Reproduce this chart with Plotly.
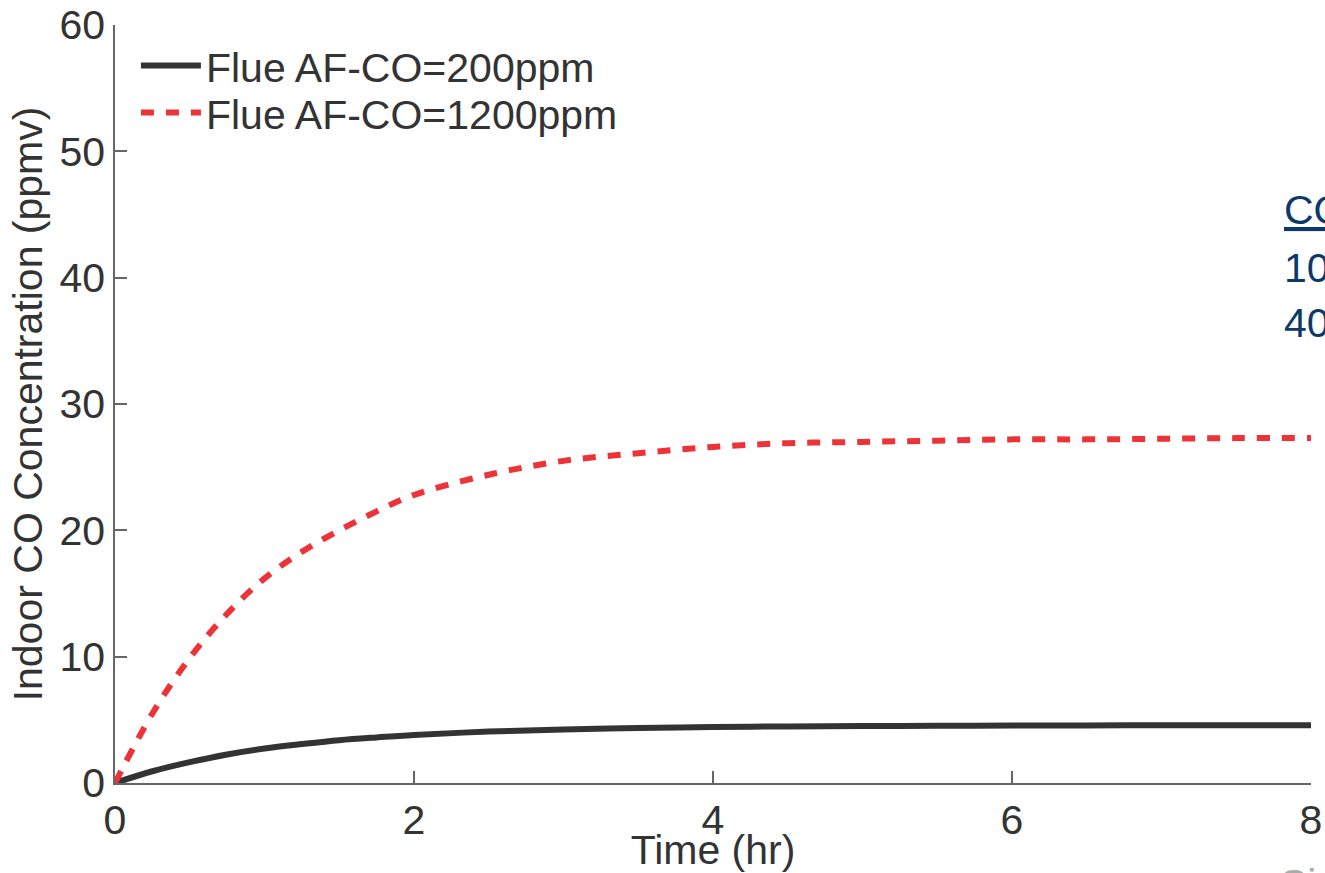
import plotly.graph_objects as go

time_hr = [0, 0.25, 0.5, 0.75, 1, 1.25, 1.5, 1.75, 2, 2.5, 3, 3.5, 4, 4.5, 5, 5.5, 6, 6.5, 7, 7.5, 8]
co_200 = [0, 0.93, 1.65, 2.26, 2.73, 3.08, 3.39, 3.61, 3.80, 4.07, 4.24, 4.36, 4.43, 4.48, 4.51, 4.53, 4.55, 4.56, 4.57, 4.57, 4.58]
co_1200 = [0, 5.5, 9.9, 13.4, 16.2, 18.3, 20.0, 21.5, 22.8, 24.4, 25.5, 26.1, 26.6, 26.9, 27.0, 27.1, 27.2, 27.2, 27.25, 27.3, 27.3]
x_ticks = [0, 2, 4, 6, 8]
y_ticks = [0, 10, 20, 30, 40, 50, 60]

FONT = "Liberation Sans, Arial, Helvetica, sans-serif"
TXT = "#333333"
BLUE = "#0B3A6A"
FS = 41

fig = go.Figure()
fig.add_trace(go.Scatter(x=time_hr, y=co_200, mode="lines", name="Flue AF-CO=200ppm",
                         line=dict(color="#333333", width=6, shape="spline"), legend="legend"))
fig.add_trace(go.Scatter(x=time_hr, y=co_1200, mode="lines", name="Flue AF-CO=1200ppm",
                         line=dict(color="#EE3338", width=6, dash="13px,12px", shape="spline"),
                         legend="legend2"))

leg_common = dict(xanchor="left", yanchor="middle", bgcolor="rgba(0,0,0,0)",
                  font=dict(size=FS, color=TXT, family=FONT), itemwidth=60,
                  borderwidth=0)
fig.update_layout(
    width=1325, height=873,
    margin=dict(l=115, r=14, t=25, b=90, autoexpand=False),
    paper_bgcolor="white", plot_bgcolor="white",
    font=dict(family=FONT, size=FS, color=TXT),
    showlegend=True,
    legend=dict(x=0.0175, y=0.946, **leg_common),
    legend2=dict(x=0.0175, y=0.884, **leg_common),
)
axis_common = dict(showline=True, linecolor="#666666", linewidth=1.5, ticks="inside",
                   ticklen=12, tickwidth=1.5, tickcolor="#666666", showgrid=False,
                   zeroline=False, tickfont=dict(size=FS, color=TXT))
fig.update_xaxes(range=[0, 8], tickvals=x_ticks, ticktext=[str(v) for v in x_ticks],
                 title=dict(text="Time (hr)", font=dict(size=FS, color=TXT), standoff=3),
                 **axis_common)
fig.update_yaxes(range=[0, 60], tickvals=y_ticks, ticktext=[str(v) for v in y_ticks],
                 title=dict(text="Indoor CO Concentration (ppmv)", font=dict(size=FS, color=TXT), standoff=4),
                 **axis_common)

fig.add_annotation(xref="paper", yref="paper", x=0.9755, y=0.756, xanchor="left", yanchor="middle",
                   text="CO", showarrow=False,
                   font=dict(size=FS, color=BLUE, family=FONT, lineposition="under"))
fig.add_annotation(xref="paper", yref="paper", x=0.9755, y=0.679, xanchor="left", yanchor="middle",
                   text="10", showarrow=False, font=dict(size=FS, color=BLUE, family=FONT))
fig.add_annotation(xref="paper", yref="paper", x=0.9755, y=0.607, xanchor="left", yanchor="middle",
                   text="40", showarrow=False, font=dict(size=FS, color=BLUE, family=FONT))
fig.add_annotation(xref="paper", yref="paper", x=0.972, y=-0.10, xanchor="left", yanchor="top",
                   text="Si", showarrow=False, font=dict(size=FS, color="#AAAAAA", family=FONT))

fig.write_html("out.html")
